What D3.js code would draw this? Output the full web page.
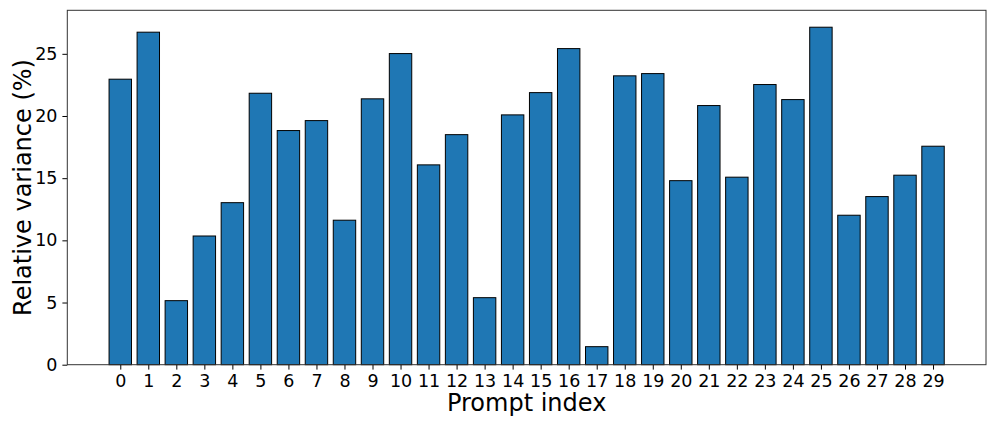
<!DOCTYPE html>
<html>
<head>
<meta charset="utf-8">
<script src="https://cdn.jsdelivr.net/npm/d3@7"></script>
<style>
  body { margin: 0; background: #fff; }
  svg { font-family: "DejaVu Sans", sans-serif; }
</style>
</head>
<body>
<div id="chart"></div>
<script>
var width = 997;
var height = 427;

// prompt indices and their relative variance (%)
var prompts = d3.range(30);
var variance = [22.96, 26.74, 5.15, 10.35, 13.03, 21.83, 18.83, 19.63, 11.62, 21.38,
                25.02, 16.07, 18.50, 5.39, 20.09, 21.88, 25.42, 1.45, 23.23, 23.41,
                14.80, 20.84, 15.08, 22.53, 21.32, 27.14, 12.02, 13.52, 15.24, 17.57];
var yTicks = [0, 5, 10, 15, 20, 25];

// plot box (window.top is reserved, so prefix the names)
var plotLeft = 67.3, plotRight = 986, plotTop = 10.3, plotBottom = 364.7;

var xScale = d3.scaleLinear().domain([-1.89, 30.89]).range([plotLeft, plotRight]);
var yScale = d3.scaleLinear().domain([0, 28.5]).range([plotBottom, plotTop]);

var svg = d3.select("#chart")
    .append("svg")
    .attr("width", width)
    .attr("height", height);

// bars
svg.selectAll("rect.bar")
    .data(prompts)
    .enter()
    .append("rect")
    .attr("class", "bar")
    .attr("x", function(d) { return xScale(d - 0.4); })
    .attr("width", function(d) { return xScale(0.4) - xScale(-0.4); })
    .attr("y", function(d) { return yScale(variance[d]); })
    .attr("height", function(d) { return yScale(0) - yScale(variance[d]); })
    .attr("fill", "#1f77b4")
    .attr("stroke", "#000")
    .attr("stroke-width", 1);

var xAxis = d3.axisBottom(xScale).tickValues(prompts).tickFormat(d3.format("d"))
    .tickSize(4.9).tickPadding(4.5);
var yAxis = d3.axisLeft(yScale).tickValues(yTicks).tickFormat(d3.format("d"))
    .tickSize(4.9).tickPadding(4.9);

var gx = svg.append("g")
    .attr("transform", "translate(0," + plotBottom + ")")
    .call(xAxis);
var gy = svg.append("g")
    .attr("transform", "translate(" + plotLeft + ",0)")
    .call(yAxis);

[gx, gy].forEach(function(g) {
    g.attr("font-size", null).attr("font-family", null);
    g.select(".domain").remove();
    g.selectAll(".tick line").attr("stroke", "#000").attr("stroke-width", 1);
    g.selectAll(".tick text")
        .attr("fill", "#000")
        .attr("font-size", "17.5px");
});

// frame
svg.append("rect")
    .attr("x", plotLeft)
    .attr("y", plotTop)
    .attr("width", plotRight - plotLeft)
    .attr("height", plotBottom - plotTop)
    .attr("fill", "none")
    .attr("stroke", "#333")
    .attr("stroke-width", 1);

svg.append("text")
    .attr("x", (plotLeft + plotRight) / 2)
    .attr("y", 411)
    .attr("text-anchor", "middle")
    .attr("font-size", "24px")
    .text("Prompt index");

svg.append("text")
    .attr("transform", "translate(30.5," + ((plotTop + plotBottom) / 2) + ") rotate(-90)")
    .attr("text-anchor", "middle")
    .attr("font-size", "24px")
    .text("Relative variance (%)");
</script>
</body>
</html>
